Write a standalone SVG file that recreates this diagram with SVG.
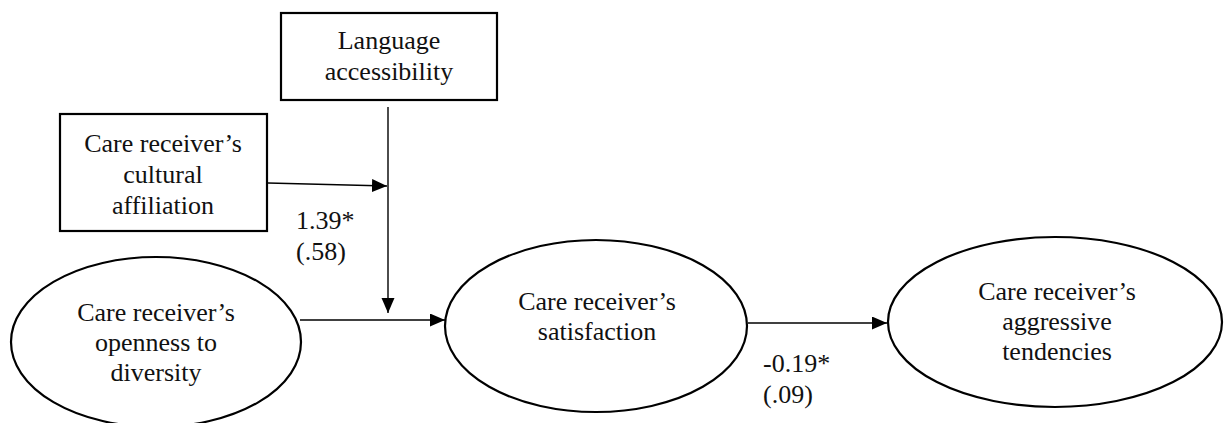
<svg xmlns="http://www.w3.org/2000/svg" width="1226" height="423" viewBox="0 0 1226 423">
<style>
.n{fill:#fff;stroke:#000;stroke-width:2.2}
text{font-family:'Liberation Serif','Times New Roman','DejaVu Serif',serif;font-size:26px;fill:#111}
.t{text-anchor:middle}
.c{stroke:#000;stroke-width:1.4;fill:none;marker-end:url(#ah)}
</style>
<defs>
<marker id="ah" markerUnits="userSpaceOnUse" markerWidth="16" markerHeight="14" refX="15" refY="6.5" orient="auto">
<path d="M0,0 L15,6.5 L0,13 z" fill="#000"/>
</marker>
</defs>
<rect width="1226" height="423" fill="#fff"/>
<g id="connectors">
<line class="c" x1="388" y1="107" x2="388" y2="313"/>
<line class="c" x1="268" y1="183" x2="387" y2="186"/>
<line class="c" x1="300" y1="320" x2="445" y2="320"/>
<line class="c" x1="748" y1="323" x2="887" y2="323"/>
<text x="296" y="229">1.39*</text>
<text x="296" y="260">(.58)</text>
<text x="763" y="372">-0.19*</text>
<text x="763" y="403">(.09)</text>
</g>
<g id="language">
<rect class="n" x="281" y="13" width="216" height="87"/>
<text class="t" x="389" y="49">Language</text>
<text class="t" x="389" y="80">accessibility</text>
</g>
<g id="cultural">
<rect class="n" x="60" y="114" width="207" height="117"/>
<text class="t" x="163" y="152">Care receiver’s</text>
<text class="t" x="163" y="183">cultural</text>
<text class="t" x="163" y="214">affiliation</text>
</g>
<g id="openness">
<ellipse class="n" cx="156" cy="342" rx="145" ry="85"/>
<text class="t" x="156" y="321">Care receiver’s</text>
<text class="t" x="156" y="351">openness to</text>
<text class="t" x="156" y="381">diversity</text>
</g>
<g id="satisfaction">
<ellipse class="n" cx="596" cy="326" rx="151" ry="86"/>
<text class="t" x="597" y="310">Care receiver’s</text>
<text class="t" x="597" y="340">satisfaction</text>
</g>
<g id="aggressive">
<ellipse class="n" cx="1055" cy="322" rx="167" ry="85"/>
<text class="t" x="1057" y="300">Care receiver’s</text>
<text class="t" x="1057" y="330">aggressive</text>
<text class="t" x="1057" y="360">tendencies</text>
</g>
</svg>
